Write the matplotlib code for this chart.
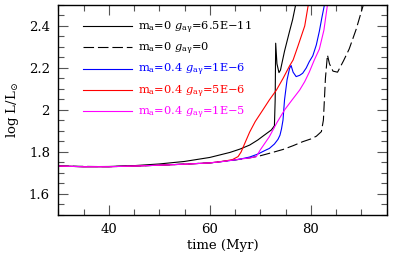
import matplotlib
matplotlib.use("Agg")
import matplotlib.pyplot as plt
from matplotlib.ticker import MultipleLocator, FixedLocator, FixedFormatter

plt.rcParams['font.family'] = ['DejaVu Serif']
plt.rcParams['mathtext.fontset'] = 'dejavuserif'

# m_a=0, g=6.5E-11 (solid black)
t_black = [30, 35, 40, 45, 50, 55, 60, 62, 64, 66, 67.9, 69.5, 70.5, 72.2, 72.8,
           72.95, 73.05, 73.3, 73.7, 74.0, 74.8, 75.8, 76.4, 77.0]
L_black = [1.733, 1.730, 1.731, 1.735, 1.743, 1.755, 1.774, 1.786, 1.798, 1.814, 1.833,
           1.857, 1.875, 1.905, 1.925, 2.05, 2.318, 2.22, 2.178, 2.19, 2.28, 2.375, 2.43, 2.5]

# m_a=0, g=0 (dashed black)
t_dash = [30, 40, 50, 60, 65, 67.9, 70, 72, 74.5, 76.5, 78.4, 80, 81.1, 82.1, 82.5,
          82.7, 82.9, 83.3, 83.7, 84.4, 85.3, 86.5, 87.6, 89.0, 90.4]
L_dash = [1.733, 1.730, 1.737, 1.748, 1.762, 1.772, 1.782, 1.795, 1.812, 1.83, 1.849,
          1.862, 1.875, 1.897, 1.952, 2.05, 2.15, 2.262, 2.22, 2.185, 2.18, 2.235, 2.29,
          2.385, 2.5]

# m_a=0.4, g=1E-6 (blue)
t_blue = [30, 35, 40, 45, 50, 55, 60, 63, 66, 67.9, 69.5, 71, 71.8, 72.8, 73.5, 73.9,
          74.2, 74.5, 74.8, 75.3, 75.8, 76.1, 76.5, 77.1, 77.8, 78.4, 79.1, 79.7, 80.4,
          81.1, 81.7, 82.2, 82.7]
L_blue = [1.733, 1.730, 1.730, 1.733, 1.737, 1.742, 1.748, 1.756, 1.766, 1.776, 1.790,
          1.808, 1.817, 1.838, 1.860, 1.88, 1.91, 1.952, 2.048, 2.143, 2.198, 2.212, 2.18,
          2.159, 2.165, 2.175, 2.20, 2.23, 2.258, 2.31, 2.375, 2.44, 2.5]

# m_a=0.4, g=5E-6 (red)
t_red = [30, 35, 40, 45, 50, 55, 60, 63, 64.5, 65.6, 66.2, 67.0, 67.9, 69.0, 70.5, 71.8,
         73.2, 74.5, 75.8, 76.5, 77.4, 78.1, 78.8, 79.5]
L_red = [1.733, 1.730, 1.730, 1.733, 1.737, 1.742, 1.748, 1.757, 1.764, 1.778, 1.80,
         1.845, 1.895, 1.945, 2.0, 2.048, 2.095, 2.15, 2.21, 2.238, 2.30, 2.35, 2.40, 2.5]

# m_a=0.4, g=1E-5 (magenta)
t_mag = [30, 35, 40, 45, 50, 55, 60, 63, 66, 68, 69.2, 70.0, 71.0, 71.8, 73.3, 74.8,
         76.3, 77.8, 78.8, 79.7, 80.7, 81.7, 82.6, 83.3]
L_mag = [1.733, 1.730, 1.730, 1.733, 1.737, 1.742, 1.748, 1.756, 1.766, 1.772, 1.778,
         1.81, 1.845, 1.873, 1.94, 2.0, 2.048, 2.095, 2.135, 2.18, 2.238, 2.29, 2.38, 2.5]

labels = [r'm$_{\rm a}$=0 $g_{\rm a\gamma}$=6.5E$-$11',
          r'm$_{\rm a}$=0 $g_{\rm a\gamma}$=0',
          r'm$_{\rm a}$=0.4 $g_{\rm a\gamma}$=1E$-$6',
          r'm$_{\rm a}$=0.4 $g_{\rm a\gamma}$=5E$-$6',
          r'm$_{\rm a}$=0.4 $g_{\rm a\gamma}$=1E$-$5']

fig = plt.figure(figsize=(3.94, 2.58), dpi=100)
ax = fig.add_axes([0.148, 0.1667, 0.833, 0.814])

lw = 0.8
ax.plot(t_black, L_black, color='black', lw=lw, label=labels[0])
ax.plot(t_dash, L_dash, color='black', lw=lw, dashes=(9.5, 3.5), label=labels[1])
ax.plot(t_blue, L_blue, color='#0000ff', lw=lw, label=labels[2])
ax.plot(t_red, L_red, color='#ff0000', lw=lw, label=labels[3])
ax.plot(t_mag, L_mag, color='#ff00ff', lw=lw, label=labels[4])

ax.set_xlim(30, 95)
ax.set_ylim(1.5, 2.5)
ax.xaxis.set_major_locator(FixedLocator([40, 60, 80]))
ax.xaxis.set_minor_locator(MultipleLocator(5))
ax.yaxis.set_major_locator(FixedLocator([1.6, 1.8, 2.0, 2.2, 2.4]))
ax.yaxis.set_major_formatter(FixedFormatter(['1.6', '1.8', '2', '2.2', '2.4']))
ax.yaxis.set_minor_locator(MultipleLocator(0.05))
ax.tick_params(which='both', direction='in', top=True, right=True, labelsize=9.5,
               width=0.8, color='#555555')
ax.tick_params(which='major', length=7, pad=6)
ax.tick_params(which='minor', length=4)
for s in ax.spines.values():
    s.set_linewidth(1.0)

ax.set_xlabel('time (Myr)', fontsize=9.5, labelpad=2)
ax.set_ylabel(r'log L/L$_{\odot}$', fontsize=9.5, labelpad=6)

leg = ax.legend(loc='upper left', bbox_to_anchor=(0.062, 0.952), frameon=False,
                fontsize=8.2, handlelength=4.3, handletextpad=0.55,
                labelspacing=0.42, labelcolor='linecolor', borderaxespad=0)

fig.savefig('out.png', dpi=100)
